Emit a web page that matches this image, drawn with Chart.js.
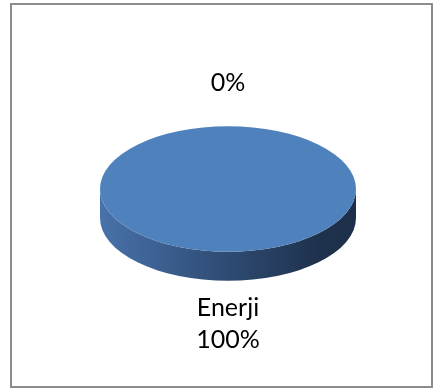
<!DOCTYPE html>
<html>
<head>
<meta charset="utf-8">
<script src="https://cdn.jsdelivr.net/npm/chart.js@4/dist/chart.umd.min.js"></script>
<style>
  html, body { margin: 0; padding: 0; background: #fff; }
  #wrap { position: relative; width: 435px; height: 389px; }
  #frame {
    position: absolute; left: 10px; top: 3px; width: 423px; height: 385px;
    border: 2px solid #8c8c8c; box-sizing: border-box; pointer-events: none;
  }
</style>
</head>
<body>
<div id="wrap">
  <canvas id="pieChart" width="435" height="389"></canvas>
  <div id="frame"></div>
</div>
<script>
// Dağılım verisi
const categories = ["Enerji", ""];
const values = [100, 0];
const sliceColors = ["#4f81bd", "#c0504d"];

// 3B görünüm ayarları
const tilt = 0.49;      // dikey basıklık
const depth = 29;       // yan yüzey kalınlığı
const labelGap = 43;

function frontRanges(start, end) {
    // yay açı aralığının öne bakan (0..π) kısımları
    const out = [];
    for (let k = -1; k <= 2; k++) {
        const a = Math.max(start, k * 2 * Math.PI);
        const b = Math.min(end, k * 2 * Math.PI + Math.PI);
        if (b > a) out.push([a, b]);
    }
    return out;
}

const pie3d = {
    id: "pie3d",
    beforeDatasetsDraw(chart) {
        const ctx = chart.ctx;
        const arcs = chart.getDatasetMeta(0).data;
        arcs.forEach((arc, i) => {
            const { x, y, outerRadius, startAngle, endAngle } = arc.getProps(["x", "y", "outerRadius", "startAngle", "endAngle"], true);
            if (endAngle - startAngle <= 0) return;
            const rx = outerRadius, ry = outerRadius * tilt;
            const grad = ctx.createLinearGradient(x - rx, 0, x + rx, 0);
            grad.addColorStop(0, "#4872aa");
            grad.addColorStop(0.5, "#2e4b73");
            grad.addColorStop(0.85, "#1f324d");
            grad.addColorStop(1, "#1d2f48");
            frontRanges(startAngle, endAngle).forEach(([a, b]) => {
                ctx.save();
                ctx.beginPath();
                ctx.ellipse(x, y + depth, rx, ry, 0, a, b);
                ctx.ellipse(x, y, rx, ry, 0, b, a, true);
                ctx.closePath();
                ctx.fillStyle = grad;
                ctx.fill();
                ctx.restore();
            });
        });
        // üst yüzey için basıklık
        const c = arcs[0];
        ctx.save();
        ctx.translate(c.x, c.y);
        ctx.scale(1, tilt);
        ctx.translate(-c.x, -c.y);
    },
    afterDatasetsDraw(chart) {
        chart.ctx.restore();
    },
    afterDraw(chart) {
        const ctx = chart.ctx;
        const arcs = chart.getDatasetMeta(0).data;
        const total = values.reduce((s, v) => s + v, 0);
        ctx.save();
        ctx.fillStyle = "#000";
        ctx.font = "25px Lato";
        ctx.textAlign = "center";
        ctx.textBaseline = "middle";
        arcs.forEach((arc, i) => {
            const { x, y, outerRadius, startAngle, endAngle } = arc.getProps(["x", "y", "outerRadius", "startAngle", "endAngle"], true);
            const mid = (startAngle + endAngle) / 2;
            const cos = Math.cos(mid), sin = Math.sin(mid);
            let px = x + outerRadius * cos + labelGap * cos;
            let py = y + outerRadius * tilt * sin + (sin > 0 ? depth : 0) + labelGap * sin;
            const pct = Math.round(values[i] / total * 100) + "%";
            const lines = categories[i] ? [categories[i], pct] : [pct];
            const lh = 32;
            lines.forEach((t, j) => {
                ctx.fillText(t, px, py + (j - (lines.length - 1) / 2) * lh);
            });
        });
        ctx.restore();
    }
};

new Chart(document.getElementById("pieChart").getContext("2d"), {
    type: "pie",
    data: {
        labels: categories,
        datasets: [{
            data: values,
            backgroundColor: sliceColors,
            borderWidth: 0
        }]
    },
    options: {
        responsive: false,
        animation: false,
        layout: { padding: { left: 100, right: 79, top: 61, bottom: 72 } },
        plugins: { legend: { display: false }, tooltip: { enabled: false } }
    },
    plugins: [pie3d]
});
</script>
</body>
</html>
